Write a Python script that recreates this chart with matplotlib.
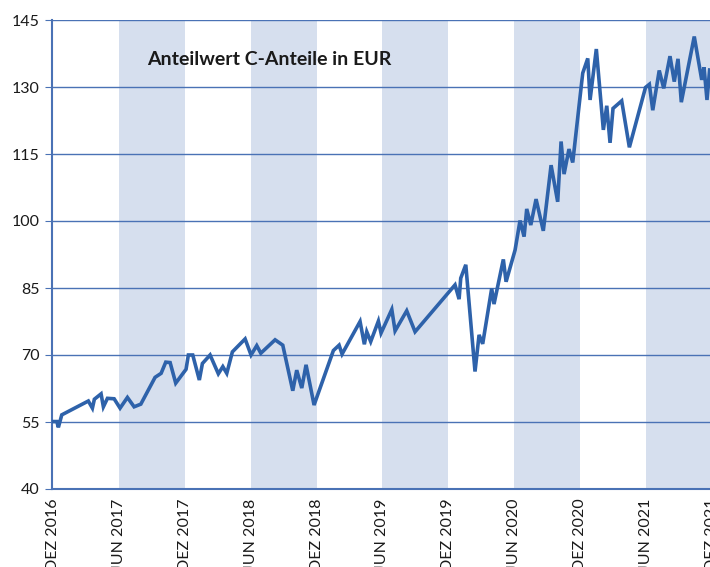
import matplotlib.pyplot as plt
import numpy as np

# months since Dec 2016 and unit value (EUR)
months = [0, 0.34, 0.48, 0.79, 3.21, 3.58, 3.76, 4.37, 4.58, 4.95,
          5.56, 6.10, 6.77, 7.38, 7.99, 9.29, 9.84, 10.26, 10.66, 11.17,
          12.11, 12.32, 12.72, 13.32, 13.60, 14.30, 15.05, 15.46, 15.82, 16.33,
          17.49, 18.03, 18.55, 18.92, 20.22, 20.92, 21.83, 22.19, 22.65, 23.04,
          23.77, 25.53, 26.05, 26.32, 27.96, 28.35, 28.57, 28.93, 29.63, 29.87,
          30.85, 31.15, 32.21, 32.97, 36.61, 36.98, 37.13, 37.59, 38.43, 38.80,
          39.13, 39.95, 40.16, 41.01, 41.26, 42.08, 42.53, 42.90, 43.14, 43.51,
          43.99, 44.65, 45.36, 45.96, 46.27, 46.54, 46.99, 47.33, 48.24, 48.70,
          48.91, 49.48, 50.12, 50.43, 50.73, 51.00, 51.79, 52.49, 53.96, 54.31,
          54.62, 55.21, 55.62, 56.19, 56.58, 56.92, 57.22, 58.40, 59.08, 59.29,
          59.56, 59.80]
values = [55.1, 55.1, 53.8, 56.6, 59.7, 58.1, 60.1, 61.3, 58.4, 60.3,
          60.2, 58.1, 60.5, 58.4, 59.0, 65.0, 65.9, 68.4, 68.3, 63.7,
          66.8, 70.0, 70.0, 64.4, 68.1, 70.0, 65.8, 67.4, 65.9, 70.7,
          73.6, 70.0, 72.1, 70.4, 73.4, 72.2, 62.0, 66.6, 62.6, 67.8,
          58.8, 71.0, 72.2, 70.2, 77.5, 72.4, 75.2, 73.0, 77.6, 74.9,
          80.2, 75.4, 79.9, 75.2, 85.7, 82.5, 87.2, 90.2, 66.3, 74.5,
          72.5, 84.9, 81.4, 91.4, 86.4, 93.5, 100.1, 96.5, 102.7, 99.1,
          104.9, 97.8, 112.5, 104.3, 117.8, 110.5, 116.1, 113.1, 133.1, 136.4,
          127.1, 138.5, 120.4, 125.8, 117.5, 125.2, 126.9, 116.5, 129.9, 130.6,
          124.8, 133.7, 129.7, 136.9, 131.2, 136.3, 126.6, 141.3, 131.6, 134.4,
          127.1, 133.8]

tick_pos = [0, 6, 12, 18, 24, 30, 36, 42, 48, 54, 60]
tick_labels = ["DEZ 2016", "JUN 2017", "DEZ 2017", "JUN 2018", "DEZ 2018",
               "JUN 2019", "DEZ 2019", "JUN 2020", "DEZ 2020", "JUN 2021", "DEZ 2021"]
bands = [(6, 12), (18, 24), (30, 36), (42, 48), (54, 66)]

blue = "#2E62AA"
grid_blue = "#4A72B5"
band_col = "#D6DFEE"

plt.rcParams['font.family'] = ['Lato', 'DejaVu Sans']

fig = plt.figure(figsize=(7.1, 5.67), dpi=100)
ax = fig.add_axes([52/710, 78/567, 670.8/710, 469/567])

for a, b in bands:
    ax.axvspan(a, b, color=band_col, lw=0, zorder=0)

for y in range(55, 146, 15):
    ax.axhline(y, color=grid_blue, lw=1.0, zorder=1)

ax.plot(months, values, color=blue, lw=2.6, zorder=3, solid_joinstyle="miter")

ax.set_xlim(-0.1, 61)
ax.set_ylim(40, 145)
ax.set_yticks(range(40, 146, 15))
ax.set_xticks(tick_pos)
ax.set_xticklabels(tick_labels, rotation=90, va="top", ha="center")
ax.tick_params(axis="y", labelsize=11.5, length=5, color=grid_blue, pad=4, labelcolor="#1a1a1a")
ax.tick_params(axis="x", labelsize=11.5, length=0, pad=7, labelcolor="#1a1a1a")

for side in ["top", "right"]:
    ax.spines[side].set_visible(False)
for side in ["left", "bottom"]:
    ax.spines[side].set_color(grid_blue)
    ax.spines[side].set_linewidth(1.5)

ax.text(8.6, 136.2, "Anteilwert C-Anteile in EUR", fontsize=14, fontweight="bold",
        color="#1a1a1a", va="center", ha="left")

fig.savefig("out.png", dpi=100)
